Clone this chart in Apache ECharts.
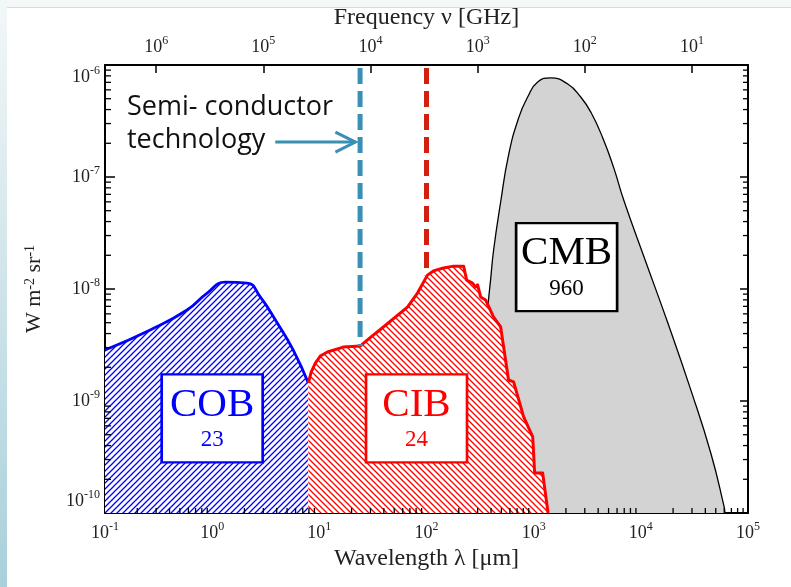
<!DOCTYPE html>
<html>
<head>
<meta charset="utf-8">
<script src="https://cdn.jsdelivr.net/npm/echarts@6/dist/echarts.min.js"></script>
<style>
html, body { margin: 0; padding: 0; background: #fff; }
#chart { width: 791px; height: 587px; }
</style>
</head>
<body>
<div id="chart"></div>
<script>
// wavelength in micron, intensity nu*I_nu in W m^-2 sr^-1
var cobLambda = [0.1, 0.264, 0.583, 0.898, 1.32, 2.12, 2.81, 4.05, 5.71, 7.89];
var cobFlux = [2.85e-9, 4.31e-9, 6.49e-9, 9.2e-9, 1.15e-8, 1.13e-8, 8.5e-9, 4.97e-9, 2.85e-9, 1.45e-9];

var cibLambda = [7.89, 8.41, 9.18, 10.2, 11.9, 16.7, 24.2, 28.1, 39.6, 66.4, 82.4, 102, 116, 144, 179, 222,
    237, 269, 287, 300, 320, 356, 423, 492, 583, 650, 807, 980, 1021, 1213, 1352, 1360];
var cibFlux = [1.45e-9, 1.82e-9, 2.18e-9, 2.52e-9, 2.74e-9, 3.03e-9, 3.1e-9, 3.51e-9, 4.58e-9, 6.9e-9, 9.2e-9, 1.33e-8, 1.45e-8, 1.54e-8, 1.6e-8, 1.6e-8,
    1.2e-8, 1.13e-8, 1.04e-8, 1.09e-8, 8.5e-9, 7.98e-9, 5.62e-9, 4.58e-9, 1.54e-9, 1.48e-9, 7.2e-10, 4.78e-10, 2.28e-10, 2.28e-10, 1.06e-10, 1e-10];

var cmbLambda = [275, 316, 347, 379, 396, 423, 492, 583, 724, 879, 1089, 1442, 2080, 2748, 3412, 4416, 5598, 6934,
    10670, 17870, 29310, 45080, 59700, 61000];
var cmbFlux = [1e-10, 1e-9, 3.2e-9, 8.0e-9, 1.2e-8, 2.23e-8, 5.98e-8, 1.57e-7, 3.37e-7, 5.18e-7, 7.05e-7, 7.66e-7, 6.76e-7, 5.18e-7, 3.8e-7, 2.23e-7, 1.2e-7, 6.2e-8,
    1.95e-8, 4.97e-9, 1.25e-9, 3.4e-10, 1.15e-10, 1e-10];

var wavelengthTicks = [0.1, 1, 10, 100, 1000, 10000, 100000];
var frequencyTicks = [10, 100, 1000, 10000, 100000, 1000000];
var fluxTicks = [1e-10, 1e-9, 1e-8, 1e-7, 1e-6];

// dashed markers: semiconductor limit and 100 micron
var semiLambda = 24, semiTop = 9.4e-7, semiBottom = 3.1e-9;
var farIrLambda = 100, farIrTop = 9.4e-7, farIrBottom = 1.33e-8;
var arrowFrom = 3.88, arrowTo = 21.7, arrowFlux = 2.05e-7;

var boxes = [
    { name: 'COB', value: '23', lambda: 1.0, flux: 7.0e-10, color: '#0000ff' },
    { name: 'CIB', value: '24', lambda: 80.7, flux: 7.0e-10, color: '#ff0000' },
    { name: 'CMB', value: '960', lambda: 2030, flux: 1.57e-8, color: '#000000' }
];

var SERIF = 'Liberation Serif';

function zip(a, b) {
    return a.map(function (v, i) { return [v, b[i]]; });
}

function hatch(color, dir) {
    var c = document.createElement('canvas');
    c.width = 6; c.height = 6;
    var g = c.getContext('2d');
    g.fillStyle = '#fff';
    g.fillRect(0, 0, 6, 6);
    g.strokeStyle = color;
    g.lineWidth = 1.3;
    g.beginPath();
    if (dir > 0) {
        g.moveTo(-1, 7); g.lineTo(7, -1);
        g.moveTo(-1, 1); g.lineTo(1, -1);
        g.moveTo(5, 7); g.lineTo(7, 5);
    } else {
        g.moveTo(-1, -1); g.lineTo(7, 7);
        g.moveTo(5, -1); g.lineTo(7, 1);
        g.moveTo(-1, 5); g.lineTo(1, 7);
    }
    g.stroke();
    return c;
}

function powLabel(v) {
    var e = Math.round(Math.log(v) / Math.LN10);
    return '{b|10}{s|' + e + '}';
}

var powRich = {
    b: { fontFamily: SERIF, fontSize: 18, color: '#222', lineHeight: 24 },
    s: { fontFamily: SERIF, fontSize: 12, color: '#222', lineHeight: 12, verticalAlign: 'top' }
};

// boxed labels sitting on the areas
function boxMark(b) {
    return {
        symbol: 'rect',
        symbolSize: [101, 88],
        itemStyle: { color: '#fff', borderColor: b.color, borderWidth: 2.5 },
        label: {
            show: true,
            position: 'inside',
            formatter: '{t|' + b.name + '}\n{n|' + b.value + '}',
            rich: {
                t: { fontFamily: SERIF, fontSize: 41, color: b.color, lineHeight: 44 },
                n: { fontFamily: SERIF, fontSize: 23, color: b.color, lineHeight: 27 }
            }
        },
        data: [{ coord: [b.lambda, b.flux] }]
    };
}

// minor ticks (2..9 per decade) on bottom, left and right
var minorTicks = [];
[-1, 0, 1, 2, 3, 4].forEach(function (d) {
    for (var k = 2; k <= 9; k++) minorTicks.push([k * Math.pow(10, d), 1e-10, 0]);
});
[-10, -9, -8, -7].forEach(function (d) {
    for (var k = 2; k <= 9; k++) {
        minorTicks.push([0.1, k * Math.pow(10, d), 1]);
        minorTicks.push([1e5, k * Math.pow(10, d), 2]);
    }
});

var chart = echarts.init(document.getElementById('chart'));

var axisName = { fontFamily: SERIF, fontSize: 24, color: '#222' };

var option = {
    animation: false,
    backgroundColor: '#fff',
    graphic: [
        { type: 'rect', left: 0, top: 0, shape: { width: 791, height: 7 }, style: { fill: '#f5f8f9' } },
        { type: 'rect', left: 7, top: 7, shape: { width: 784, height: 1 }, style: { fill: '#d6dbdd' } },
        {
            type: 'rect', left: 0, top: 0, shape: { width: 7, height: 587 },
            style: {
                fill: new echarts.graphic.LinearGradient(0, 0, 0, 1, [
                    { offset: 0, color: '#f3f7f8' },
                    { offset: 1, color: '#a9d0db' }
                ])
            }
        },
        {
            type: 'text', left: 127, top: 91, z: 100,
            style: {
                text: 'Semi- conductor\ntechnology',
                font: '27px "Open Sans"',
                lineHeight: 33,
                fill: '#111'
            }
        }
    ],
    grid: { left: 105, right: 43, top: 65, bottom: 74 },
    xAxis: [{
        type: 'log',
        min: 0.1,
        max: 1e5,
        position: 'bottom',
        name: 'Wavelength λ [μm]',
        nameLocation: 'middle',
        nameGap: 34,
        nameTextStyle: axisName,
        axisLine: { onZero: false, lineStyle: { color: '#000', width: 2 } },
        axisTick: { inside: true, length: 8, customValues: wavelengthTicks, lineStyle: { color: '#000', width: 1.5 } },
        axisLabel: { customValues: wavelengthTicks, margin: 8, formatter: powLabel, rich: powRich },
        splitLine: { show: false }
    }, {
        type: 'log',
        min: 3,
        max: 3e6,
        inverse: true,
        position: 'top',
        name: 'Frequency ν [GHz]',
        nameLocation: 'middle',
        nameGap: 34,
        nameTextStyle: axisName,
        axisLine: { onZero: false, lineStyle: { color: '#000', width: 2 } },
        axisTick: { inside: true, length: 8, customValues: frequencyTicks, lineStyle: { color: '#000', width: 1.5 } },
        axisLabel: { customValues: frequencyTicks, margin: 6, formatter: powLabel, rich: powRich },
        splitLine: { show: false }
    }],
    yAxis: [{
        type: 'log',
        min: 1e-10,
        max: 1e-6,
        position: 'left',
        name: 'W m{s|-2} sr{s|-1}',
        nameLocation: 'middle',
        nameRotate: 90,
        nameGap: 60,
        nameTextStyle: {
            fontFamily: SERIF, fontSize: 22, color: '#222',
            rich: {
                s: { fontFamily: SERIF, fontSize: 14, color: '#222', lineHeight: 14, verticalAlign: 'top' }
            }
        },
        axisLine: { onZero: false, lineStyle: { color: '#000', width: 2 } },
        axisTick: { inside: true, length: 10, customValues: fluxTicks, lineStyle: { color: '#000', width: 1.5 } },
        axisLabel: {
            customValues: fluxTicks, margin: 5, formatter: powLabel, rich: powRich,
            verticalAlignMinLabel: 'bottom', verticalAlignMaxLabel: 'top'
        },
        splitLine: { show: false }
    }, {
        type: 'log',
        min: 1e-10,
        max: 1e-6,
        position: 'right',
        axisLine: { onZero: false, lineStyle: { color: '#000', width: 2 } },
        axisTick: { inside: true, length: 8, customValues: fluxTicks, lineStyle: { color: '#000', width: 1.5 } },
        axisLabel: { show: false },
        splitLine: { show: false }
    }],
    series: [
        {
            name: 'CMB',
            type: 'line',
            smooth: 0.5,
            symbol: 'none',
            data: zip(cmbLambda, cmbFlux),
            lineStyle: { color: '#000', width: 1.3 },
            areaStyle: { color: '#d3d3d3', opacity: 1, origin: 'start' },
            z: 2,
            markPoint: boxMark(boxes[2])
        },
        {
            name: 'COB',
            type: 'line',
            smooth: 0.5,
            symbol: 'none',
            data: zip(cobLambda, cobFlux),
            lineStyle: { color: '#0000ff', width: 2.8 },
            areaStyle: { color: { image: hatch('#0000ff', 1), repeat: 'repeat' }, opacity: 1, origin: 'start' },
            z: 3,
            markPoint: boxMark(boxes[0])
        },
        {
            name: 'CIB',
            type: 'line',
            symbol: 'none',
            data: zip(cibLambda, cibFlux),
            lineStyle: { color: '#ff0000', width: 3, join: 'round' },
            areaStyle: { color: { image: hatch('#ff0000', -1), repeat: 'repeat' }, opacity: 1, origin: 'start' },
            z: 4,
            markPoint: boxMark(boxes[1])
        },
        {
            name: 'semiconductor',
            type: 'line',
            symbol: 'none',
            data: [[semiLambda, semiTop], [semiLambda, semiBottom]],
            lineStyle: { color: '#3a8fb5', width: 5, type: [16, 7] },
            z: 5
        },
        {
            name: 'far-ir',
            type: 'line',
            symbol: 'none',
            data: [[farIrLambda, farIrTop], [farIrLambda, farIrBottom]],
            lineStyle: { color: '#cf2010', width: 5, type: [16, 7] },
            z: 5
        },
        {
            name: 'arrow',
            type: 'custom',
            clip: false,
            z: 6,
            data: [[arrowFrom, arrowTo, arrowFlux]],
            encode: { x: [0, 1], y: 2 },
            renderItem: function (params, api) {
                var a = api.coord([api.value(0), api.value(2)]);
                var b = api.coord([api.value(1), api.value(2)]);
                var st = { stroke: '#3a8fb5', lineWidth: 3, fill: null, lineJoin: 'miter' };
                return {
                    type: 'group',
                    children: [
                        { type: 'line', shape: { x1: a[0], y1: a[1], x2: b[0], y2: b[1] }, style: st },
                        { type: 'polyline', shape: { points: [[b[0] - 20, b[1] - 10], [b[0], b[1]], [b[0] - 20, b[1] + 10]] }, style: st }
                    ]
                };
            }
        },
        {
            name: 'minor ticks',
            type: 'custom',
            clip: false,
            z: 10,
            data: minorTicks,
            encode: { x: 0, y: 1 },
            renderItem: function (params, api) {
                var p = api.coord([api.value(0), api.value(1)]);
                var side = api.value(2);
                var s;
                if (side === 0) s = { x1: p[0], y1: p[1], x2: p[0], y2: p[1] - 5 };
                else if (side === 1) s = { x1: p[0], y1: p[1], x2: p[0] + 6, y2: p[1] };
                else s = { x1: p[0], y1: p[1], x2: p[0] - 5, y2: p[1] };
                return { type: 'line', shape: s, style: { stroke: '#000', lineWidth: 1.3 } };
            }
        }
    ]
};

chart.setOption(option);
</script>
</body>
</html>
